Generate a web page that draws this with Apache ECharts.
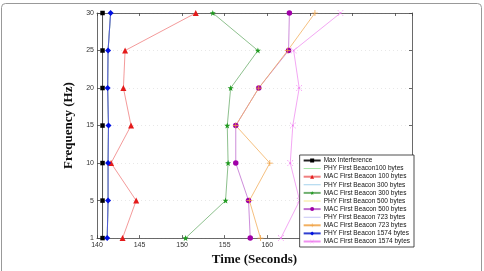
<!DOCTYPE html>
<html>
<head>
<meta charset="utf-8">
<script src="https://cdn.jsdelivr.net/npm/echarts@6/dist/echarts.min.js"></script>
<style>
  html, body { margin: 0; padding: 0; background: #fff; }
  #chart { width: 484px; height: 271px; }
</style>
</head>
<body>
<div id="chart"></div>
<script>
// Frecuencias (eje Y, categorías igualmente espaciadas)
const frequencies = ['1', '5', '10', '15', '20', '25', '30'];

// Tiempos (segundos) por frecuencia, en el orden de frequencies
const maxInterference = [140.65, 140.65, 140.65, 140.65, 140.65, 140.65, 140.65];
const phy100  = [141.2, 141.3, 141.3, 141.35, 141.25, 141.3, 141.6];
const mac100  = [143.0, 144.6, 141.65, 144.0, 143.1, 143.3, 151.6];
const phy300  = [141.2, 141.3, 141.3, 141.35, 141.25, 141.3, 141.6];
const mac300  = [150.4, 155.1, 155.4, 155.3, 155.7, 158.9, 153.6];
const phy500  = [141.2, 141.3, 141.3, 141.35, 141.25, 141.3, 141.6];
const mac500  = [158.0, 157.8, 156.3, 156.3, 159.0, 162.5, 162.6];
const phy723  = [141.2, 141.3, 141.3, 141.35, 141.25, 141.3, 141.6];
const mac723  = [159.2, 157.9, 160.3, 156.3, 159.0, 162.4, 165.6];
const phy1574 = [141.2, 141.3, 141.3, 141.35, 141.25, 141.3, 141.6];
const mac1574 = [161.6, 163.8, 162.7, 163.0, 163.75, 163.1, 168.6];

const xMin = 140, xMax = 177, xInterval = 5;

const plusPath = 'path://M-0.6,-5H0.6V-0.6H5V0.6H0.6V5H-0.6V0.6H-5V-0.6H-0.6Z';
const crossPath = 'path://M-4.2,-3.4L0,-0.8L4.2,-3.4L3.4,-4.2L0.8,0L3.4,4.2L4.2,3.4L0,0.8L-4.2,3.4L-3.4,4.2L-0.8,0L-3.4,-4.2Z';
const starPath = 'path://M0,-5L1.2,-1.6L4.8,-1.6L1.9,0.6L3,4L0,1.9L-3,4L-1.9,0.6L-4.8,-1.6L-1.2,-1.6Z';
// icono de leyenda: solo una línea fina (sin marcador)
const lineIcon = 'path://M0,0L0,0M17,5L17,5M0,2.1H17V2.9H0Z';

function pts(arr) {
  return arr.map((v, i) => [v, frequencies[i]]);
}

function mkSeries(name, arr, color, symbol, size, lineColor) {
  return {
    name: name,
    type: 'line',
    data: pts(arr),
    symbol: symbol || 'none',
    symbolSize: size || 0,
    showSymbol: !!symbol,
    animation: false,
    lineStyle: { color: lineColor || color, width: 0.8 },
    itemStyle: { color: color, borderWidth: 0 },
    emphasis: { disabled: true }
  };
}

const series = [
  mkSeries('Max Interference', maxInterference, '#000000', 'rect', 4.5, '#222'),
  mkSeries('PHY First Beacon100 bytes', phy100, '#8ee08e'),
  mkSeries('MAC First Beacon 100 bytes', mac100, '#e41a1a', 'triangle', 6, '#f08080'),
  mkSeries('PHY First Beacon 300 bytes', phy300, '#8cc6e8'),
  mkSeries('MAC First Beacon 300 bytes', mac300, '#1f9a1f', starPath, 6, '#70b070'),
  mkSeries('PHY First Beacon 500 bytes', phy500, '#f2e070'),
  mkSeries('MAC First Beacon 500 bytes', mac500, '#a000a8', 'circle', 5.5, '#c070d0'),
  mkSeries('PHY First Beacon 723 bytes', phy723, '#b8b8f4'),
  mkSeries('MAC First Beacon 723 bytes', mac723, '#f0a040', plusPath, 6, '#f2b060'),
  mkSeries('PHY First Beacon 1574 bytes', phy1574, '#0010e0', 'diamond', 6, '#3040d0'),
  mkSeries('MAC First Beacon 1574 bytes', mac1574, '#f070f0', crossPath, 6, '#f090f0')
];

const legendData = series.map(s => {
  if (s.symbol === 'none') {
    return { name: s.name, icon: lineIcon, itemStyle: { color: s.lineStyle.color } };
  }
  return { name: s.name };
});

const tickFont = { fontFamily: 'Liberation Sans', fontSize: 7, color: '#333' };
const axisLine = { show: true, lineStyle: { color: '#444', width: 0.8 } };
const inTick = { show: true, inside: true, length: 3, lineStyle: { color: '#444', width: 0.8 } };

const chart = echarts.init(document.getElementById('chart'), null, { renderer: 'canvas' });
chart.setOption({
  backgroundColor: '#fff',
  animation: false,
  grid: { left: 97, right: 72, top: 13, bottom: 23 },
  graphic: [{
    type: 'rect',
    shape: { x: 1.5, y: 3.5, width: 480, height: 290, r: 4 },
    style: { fill: null, stroke: '#999', lineWidth: 1 },
    silent: true,
    z: 100
  }],
  legend: {
    right: 70,
    bottom: 24,
    orient: 'vertical',
    itemWidth: 17,
    itemHeight: 5,
    itemGap: 1.1,
    padding: [2, 4, 2, 3],
    backgroundColor: '#fff',
    borderColor: '#222',
    borderWidth: 0.8,
    textStyle: { fontFamily: 'Liberation Sans', fontSize: 6.5, color: '#111', padding: [0, 0, 0, -2], lineHeight: 7 },
    data: legendData
  },
  xAxis: [{
    type: 'value',
    min: xMin, max: xMax, interval: xInterval,
    name: 'Time (Seconds)',
    nameLocation: 'middle',
    nameGap: 14,
    nameTextStyle: { fontFamily: 'Liberation Serif', fontWeight: 'bold', fontSize: 13, color: '#111' },
    axisLine: axisLine,
    axisTick: inTick,
    axisLabel: Object.assign({ margin: 3, formatter: v => (v % 5 === 0 ? String(v) : '') }, tickFont),
    splitLine: { show: false }
  }, {
    type: 'value',
    position: 'top',
    min: xMin, max: xMax, interval: xInterval,
    axisLine: axisLine,
    axisTick: inTick,
    axisLabel: { show: false },
    splitLine: { show: false }
  }],
  yAxis: [{
    type: 'category',
    data: frequencies,
    boundaryGap: false,
    name: 'Frequency (Hz)',
    nameLocation: 'middle',
    nameGap: 20,
    nameRotate: 90,
    nameTextStyle: { fontFamily: 'Liberation Serif', fontWeight: 'bold', fontSize: 13, color: '#111' },
    axisLine: axisLine,
    axisTick: Object.assign({ alignWithLabel: true }, inTick),
    axisLabel: Object.assign({ margin: 3 }, tickFont),
    splitLine: { show: true, lineStyle: { color: '#e2e2e2', type: [1, 3], width: 0.8 } }
  }, {
    type: 'category',
    data: frequencies,
    boundaryGap: false,
    position: 'right',
    axisLine: axisLine,
    axisTick: inTick,
    axisLabel: { show: false },
    splitLine: { show: false }
  }],
  series: series
});
</script>
</body>
</html>
